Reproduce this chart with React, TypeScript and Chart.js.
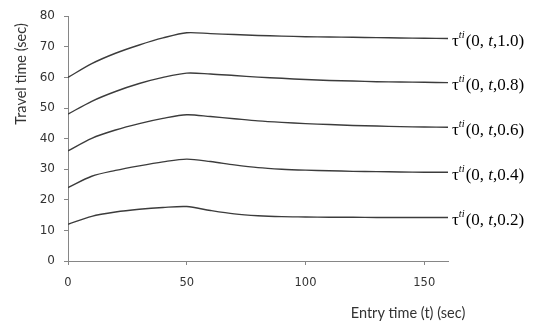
import React, { useEffect, useRef } from 'react';
import { Chart, registerables } from 'chart.js';

Chart.register(...registerables);

const entryTimes = [0, 10, 20, 30, 40, 50, 60, 70, 80, 90, 100, 110, 120, 130, 140, 150, 160];
const series10 = [60, 64.5, 67.9, 70.6, 72.9, 74.6, 74.3, 74.0, 73.7, 73.5, 73.3, 73.2, 73.1, 73.0, 72.9, 72.8, 72.7];
const series08 = [48, 52.2, 55.4, 58.0, 60.0, 61.4, 61.1, 60.6, 60.1, 59.7, 59.3, 59.0, 58.8, 58.6, 58.5, 58.4, 58.3];
const series06 = [36, 40.1, 42.8, 44.9, 46.6, 47.8, 47.2, 46.5, 45.8, 45.3, 44.9, 44.6, 44.3, 44.1, 43.9, 43.8, 43.7];
const series04 = [24, 27.7, 29.6, 31.1, 32.4, 33.3, 32.5, 31.4, 30.5, 30.0, 29.7, 29.5, 29.3, 29.2, 29.1, 29.0, 29.0];
const series02 = [12, 14.6, 16.0, 16.9, 17.5, 17.8, 16.5, 15.4, 14.8, 14.5, 14.4, 14.3, 14.3, 14.2, 14.2, 14.2, 14.2];
const seriesParams = ['1.0', '0.8', '0.6', '0.4', '0.2'];
const allSeries = [series10, series08, series06, series04, series02];
const xTickValues = [0, 50, 100, 150];
const yTickValues = [0, 10, 20, 30, 40, 50, 60, 70, 80];
const xTitle = 'Entry time (t) (sec)';
const yTitle = 'Travel time (sec)';

const lineColor = '#3c3c3c';
const axisColor = '#868686';
const textColor = '#333333';

const labelPlugin = {
  id: 'endLabels',
  afterDatasetsDraw(chart: any) {
    const ctx = chart.ctx;
    ctx.save();
    ctx.fillStyle = '#000';
    ctx.textBaseline = 'middle';
    ctx.textAlign = 'left';
    chart.data.datasets.forEach((ds: any, i: number) => {
      const meta = chart.getDatasetMeta(i);
      const pt = meta.data[meta.data.length - 1];
      let x = pt.x + 4;
      const y = pt.y + 3;
      const normal = '17px "Liberation Serif"';
      const italic = 'italic 17px "Liberation Serif"';
      const sup = 'italic 10.5px "Liberation Serif"';
      const parts: [string, string, number][] = [
        ['τ', normal, 0],
        ['ti', sup, -6.5],
        ['(0, ', normal, 0],
        ['t', italic, 0],
        [',' + seriesParams[i] + ')', normal, 0],
      ];
      parts.forEach(([t, f, dy]) => {
        ctx.font = f;
        ctx.fillText(t, x, y + dy);
        x += ctx.measureText(t).width + (t === 'ti' ? 1 : 0);
      });
    });
    ctx.restore();
  },
};

const titlePlugin = {
  id: 'axisTitles',
  afterDraw(chart: any) {
    const ctx = chart.ctx;
    ctx.save();
    ctx.fillStyle = textColor;
    ctx.font = '14.5px Lato';
    ctx.textAlign = 'center';
    ctx.textBaseline = 'middle';
    ctx.fillText(xTitle, 408, 313);
    ctx.translate(21, 74);
    ctx.rotate(-Math.PI / 2);
    ctx.fillText(yTitle, 0, 0);
    ctx.restore();
  },
};

export default function App() {
  const ref = useRef<HTMLCanvasElement>(null);
  useEffect(() => {
    if (!ref.current) return;
    const chart = new Chart(ref.current, {
      type: 'line',
      data: {
        datasets: allSeries.map((s, i) => ({
          label: seriesParams[i],
          data: s.map((v, j) => ({ x: entryTimes[j], y: v })),
          borderColor: lineColor,
          borderWidth: 1.4,
          pointRadius: 0,
          fill: false,
          tension: 0.3,
        })),
      },
      options: {
        animation: false,
        responsive: false,
        devicePixelRatio: 1,
        layout: { padding: { left: 0, top: 13, right: 89, bottom: 0 } },
        plugins: { legend: { display: false }, tooltip: { enabled: false } },
        scales: {
          x: {
            type: 'linear',
            min: 0,
            max: 160,
            afterBuildTicks: (s: any) => {
              s.ticks = xTickValues.map((v) => ({ value: v }));
            },
            afterFit: (s: any) => {
              s.height = 60;
            },
            grid: { drawOnChartArea: false, drawTicks: true, tickLength: 4, color: axisColor },
            border: { color: axisColor },
            ticks: { color: textColor, font: { family: '"DejaVu Sans"', size: 11.5 }, padding: 11, maxRotation: 0 },
          },
          y: {
            min: 0,
            max: 80,
            afterBuildTicks: (s: any) => {
              s.ticks = yTickValues.map((v) => ({ value: v }));
            },
            afterFit: (s: any) => {
              s.width = 68;
            },
            grid: { drawOnChartArea: false, drawTicks: true, tickLength: 4, color: axisColor },
            border: { color: axisColor },
            ticks: { color: textColor, font: { family: '"DejaVu Sans"', size: 12 }, padding: 9 },
          },
        },
      },
      plugins: [labelPlugin, titlePlugin],
    });
    return () => chart.destroy();
  }, []);
  return (
    <div style={{ position: 'fixed', left: 0, top: 0, width: 537, height: 321, background: '#fff' }}>
      <canvas ref={ref} width={537} height={321} />
    </div>
  );
}
